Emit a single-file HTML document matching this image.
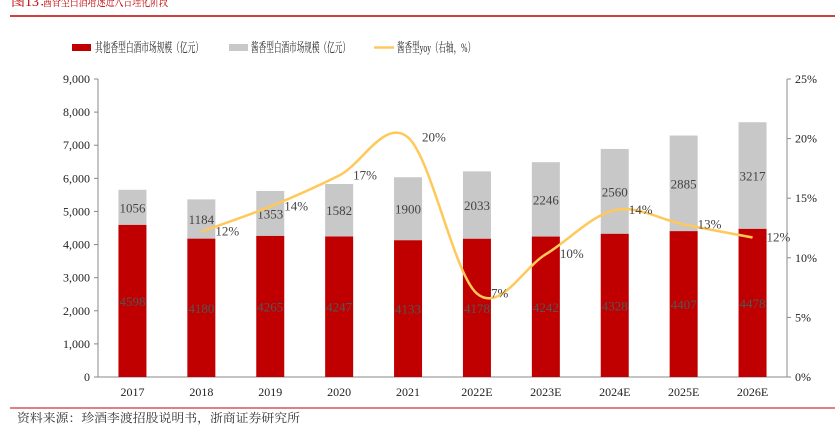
<!DOCTYPE html>
<html><head><meta charset="utf-8"><style>
body{margin:0;background:#fff;width:835px;height:425px;overflow:hidden;font-family:"Liberation Serif","Noto Serif CJK SC",serif;}
svg{display:block}
</style></head><body>
<svg id="c" width="835" height="425">
<text x="11" y="6" fill="#c00000" font-size="14" font-family="Liberation Serif, Noto Serif CJK SC, serif"><tspan>图13：</tspan><tspan x="43" textLength="125" lengthAdjust="spacingAndGlyphs">酱香型白酒增速进入合理化阶段</tspan></text>
<line x1="10" y1="16" x2="835" y2="16" stroke="#c00000" stroke-width="1.5"/>
<line x1="10" y1="408" x2="835" y2="408" stroke="#c00000" stroke-width="1"/>
<text x="17" y="422" fill="#333" font-size="12" textLength="283" lengthAdjust="spacingAndGlyphs" font-family="Liberation Serif, Noto Serif CJK SC, serif">资料来源：珍酒李渡招股说明书，浙商证券研究所</text>
<g font-size="13" fill="#222" font-family="Liberation Serif, Noto Serif CJK SC, serif">
<rect x="72" y="44" width="19" height="7" fill="#c00000"/>
<text x="95" y="52" textLength="108" lengthAdjust="spacingAndGlyphs">其他香型白酒市场规模（亿元）</text>
<rect x="229" y="44" width="19" height="7" fill="#c8c8c8"/>
<text x="251" y="52" textLength="99" lengthAdjust="spacingAndGlyphs">酱香型白酒市场规模（亿元）</text>
<line x1="374" y1="47.5" x2="394" y2="47.5" stroke="#ffc85a" stroke-width="2.5"/>
<text x="397" y="52" textLength="78" lengthAdjust="spacingAndGlyphs">酱香型yoy（右轴，%）</text>
</g>
<g id="plot"></g>
</svg>
<script>
const categories=["2017","2018","2019","2020","2021","2022E","2023E","2024E","2025E","2026E"];
const otherVals=[4598,4180,4265,4247,4133,4178,4242,4328,4407,4478];
const jiangVals=[1056,1184,1353,1582,1900,2033,2246,2560,2885,3217];
const yoyVals=[null,12.2,14.3,16.9,20.1,7.0,10.3,14.0,12.8,11.7];
const yoyLabels=["","12%","14%","17%","20%","7%","10%","14%","13%","12%"];
const leftTicks=[0,1000,2000,3000,4000,5000,6000,7000,8000,9000];
const rightTicks=[0,5,10,15,20,25];

const NS="http://www.w3.org/2000/svg";
const g=document.getElementById('plot');
const L=98,R=787,T=79,B=377;
const band=(R-L)/categories.length;
const xC=i=>L+band*(i+0.5);
const yL=v=>B-(v/9000)*(B-T);
const yR=v=>B-(v/25)*(B-T);
function mk(tag,attrs,txt){const e=document.createElementNS(NS,tag);for(const k in attrs)e.setAttribute(k,attrs[k]);if(txt!==undefined)e.textContent=txt;g.appendChild(e);return e;}
const F="Liberation Serif, serif";
let e;
e=mk('line',{x1:L,y1:T,x2:L,y2:B,stroke:'#888'});


e=mk('line',{x1:R,y1:T,x2:R,y2:B,stroke:'#888'});


e=mk('line',{x1:L,y1:B,x2:R,y2:B,stroke:'#888'});


leftTicks.forEach(v=>{
  mk('line',{x1:L-4,y1:yL(v),x2:L,y2:yL(v),stroke:'#888'});
  e=mk('text',{x:L-8,y:yL(v)+4,'text-anchor':'end','font-size':12,fill:'#222','font-family':F},v.toLocaleString('en-US'));
  
  
});
rightTicks.forEach(v=>{
  mk('line',{x1:R,y1:yR(v),x2:R+4,y2:yR(v),stroke:'#888'});
  e=mk('text',{x:R+8,y:yR(v)+4,'font-size':12,fill:'#222','font-family':F},v+'%');
  
  
});
const bw=28;
categories.forEach((c,i)=>{
  const x=xC(i)-bw/2;
  e=mk('rect',{x:x,y:yL(otherVals[i]),width:bw,height:B-yL(otherVals[i]),fill:'#c00000'});
  
  
  const top=otherVals[i]+jiangVals[i];
  e=mk('rect',{x:x,y:yL(top),width:bw,height:yL(otherVals[i])-yL(top),fill:'#c8c8c8'});
  
  
  e=mk('text',{x:xC(i),y:yL(otherVals[i]/2)+5,'text-anchor':'middle','font-size':13,fill:'#555','font-family':F},otherVals[i]);
  
  
  e=mk('text',{x:xC(i),y:yL(otherVals[i]+jiangVals[i]/2)+5,'text-anchor':'middle','font-size':13,fill:'#444','font-family':F},jiangVals[i]);
  
  
  e=mk('text',{x:xC(i),y:B+19,'text-anchor':'middle','font-size':12,fill:'#222','font-family':F},c);
  
  
});
const pts=[];yoyVals.forEach((v,i)=>{if(v!==null)pts.push([xC(i),yR(v),i]);});
let d='M'+pts[0][0]+','+pts[0][1];
for(let k=0;k<pts.length-1;k++){
  const p0=pts[Math.max(k-1,0)],p1=pts[k],p2=pts[k+1],p3=pts[Math.min(k+2,pts.length-1)];
  const t=1/3;
  const c1x=p1[0]+(p2[0]-p0[0])*t/2,c1y=p1[1]+(p2[1]-p0[1])*t/2;
  const c2x=p2[0]-(p3[0]-p1[0])*t/2,c2y=p2[1]-(p3[1]-p1[1])*t/2;
  d+=` C${c1x},${c1y} ${c2x},${c2y} ${p2[0]},${p2[1]}`;
}
e=mk('path',{d:d,fill:'none',stroke:'#ffc85a','stroke-width':2.5});


pts.forEach(p=>{
  e=mk('text',{x:p[0]+14,y:p[1]+4,'font-size':13,fill:'#444','font-family':F},yoyLabels[p[2]]);
  
  
});
</script>
</body></html>
